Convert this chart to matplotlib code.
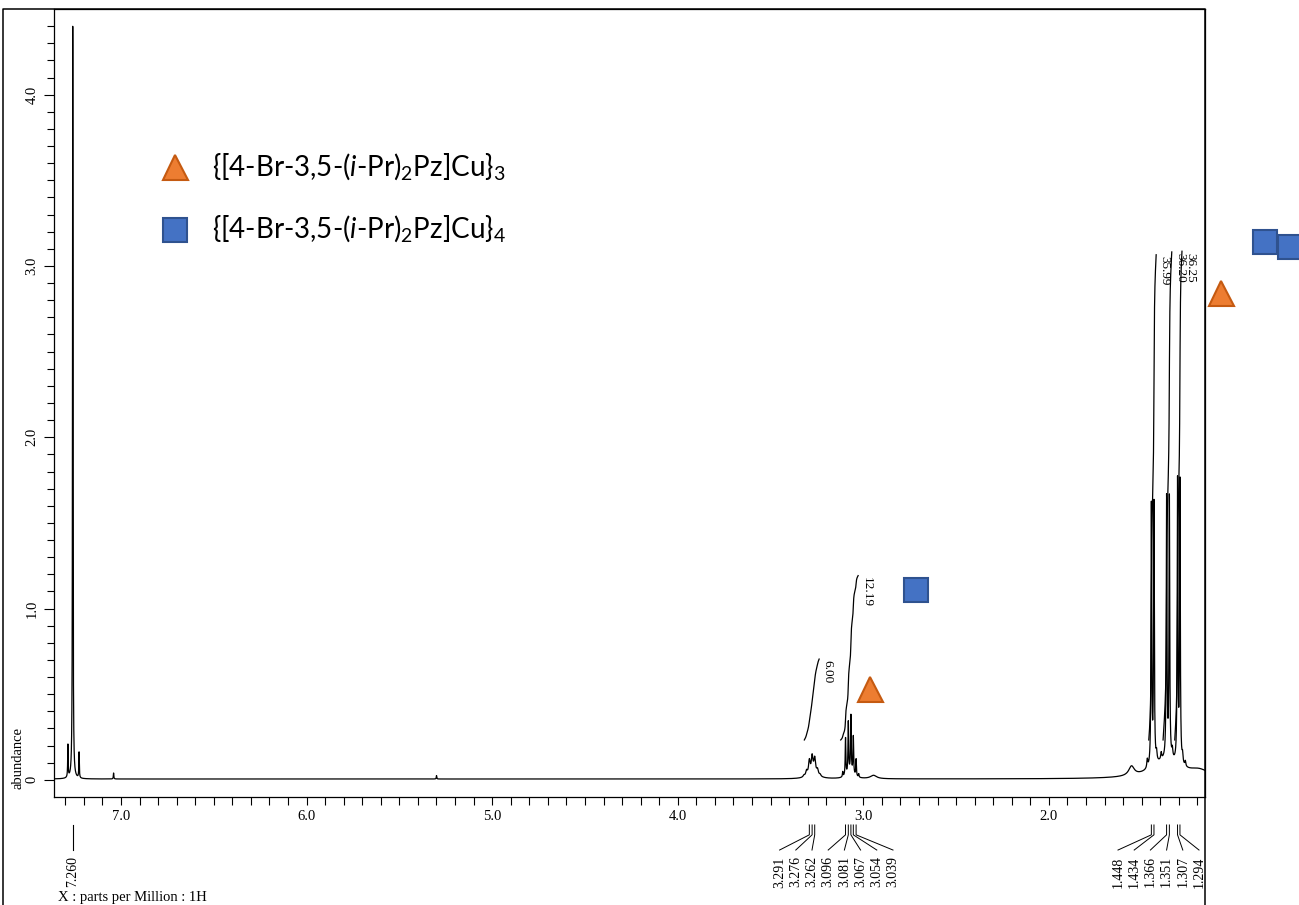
import numpy as np
import matplotlib
matplotlib.use('Agg')
from matplotlib import pyplot as plt
from matplotlib.lines import Line2D
import matplotlib.transforms as mtransforms

plt.rcParams['font.family'] = 'Liberation Serif'
plt.rcParams['mathtext.fontset'] = 'custom'
plt.rcParams['mathtext.rm'] = 'Lato'
plt.rcParams['mathtext.it'] = 'Lato:italic'

# 1H signals: position (ppm), height, half width (ppm)
peak_ppm = [7.286, 7.260, 7.226, 7.040, 5.300,
            3.320, 3.306, 3.291, 3.276, 3.262, 3.247, 3.233, 3.270,
            3.111, 3.096, 3.081, 3.067, 3.054, 3.039, 3.025, 3.070,
            2.945,
            1.555, 1.470, 1.448, 1.434, 1.420, 1.395, 1.366, 1.351, 1.335,
            1.307, 1.294, 1.280, 1.265, 1.370, 1.190]
peak_height = [0.19, 4.40, 0.15, 0.035, 0.02,
               0.01, 0.03, 0.08, 0.09, 0.08, 0.03, 0.01, 0.04,
               0.03, 0.22, 0.30, 0.33, 0.22, 0.10, 0.02, 0.035,
               0.02,
               0.055, 0.05, 1.52, 1.52, 0.05, 0.04, 1.52, 1.52, 0.05,
               1.64, 1.64, 0.05, 0.03, 0.10, 0.04]
peak_width = [0.0015, 0.0015, 0.0015, 0.0015, 0.0015,
              0.005, 0.005, 0.005, 0.005, 0.005, 0.005, 0.005, 0.025,
              0.002, 0.002, 0.002, 0.002, 0.002, 0.002, 0.002, 0.02,
              0.02,
              0.018, 0.003, 0.0022, 0.0022, 0.003, 0.003, 0.0022, 0.0022, 0.003,
              0.0022, 0.0022, 0.003, 0.003, 0.09, 0.07]
baseline = 0.005

# picked peaks (ppm)
picked = [7.260, 3.291, 3.276, 3.262, 3.096, 3.081, 3.067, 3.054, 3.039,
          1.448, 1.434, 1.366, 1.351, 1.307, 1.294]

# integrals: start ppm, end ppm, value
int_start = [3.318, 3.122, 1.462, 1.385, 1.322]
int_end = [3.238, 3.028, 1.422, 1.338, 1.283]
int_value = [6.00, 12.19, 35.99, 36.20, 36.25]

# assignment markers (ppm, abundance)
trimer_marks = [(2.965, 0.53), (1.073, 2.845)]
tetramer_marks = [(2.717, 1.108), (0.837, 3.14), (0.703, 3.11)]

legend_labels = [r'{[4-Br-3,5-($\mathit{i}$-Pr)$_2$Pz]Cu}$_3$',
                 r'{[4-Br-3,5-($\mathit{i}$-Pr)$_2$Pz]Cu}$_4$']

x_lo, x_hi = 1.159, 7.361
ppm = np.linspace(x_hi, x_lo, 40000)
spec = np.full_like(ppm, baseline)
for p, h, w in zip(peak_ppm, peak_height, peak_width):
    spec += h * w**2 / ((ppm - p)**2 + w**2)

W, H = 1299, 905
fig = plt.figure(figsize=(W / 100, H / 100), dpi=100)
ax = fig.add_axes([54 / W, 1 - 797 / H, (1205 - 54) / W, (797 - 9) / H])

ax.plot(ppm, spec, color='black', lw=0.9)

ax.set_xlim(x_hi, x_lo)
ax.set_ylim(-0.1, 4.5)
ax.set_xticks(np.arange(2.0, 7.01, 1.0))
ax.set_xticklabels([f'{v:.1f}' for v in np.arange(2.0, 7.01, 1.0)], fontsize=10.5)
ax.set_xticks(np.arange(1.2, 7.36, 0.1), minor=True)
yt = np.arange(0, 4.01, 1.0)
ax.set_yticks(yt)
ax.set_yticklabels(['0'] + [f'{v:.1f}' for v in yt[1:]], rotation=90,
                   va='center', fontsize=10.5)
ax.set_yticks(np.arange(0, 4.46, 0.1), minor=True)
ax.tick_params(axis='x', which='both', length=6, width=0.8, pad=3)
ax.tick_params(axis='y', which='major', length=7, width=0.8, pad=4)
ax.tick_params(axis='y', which='minor', length=5, width=0.8)
for s in ax.spines.values():
    s.set_linewidth(0.9)

# integral curves
int_base, int_scale = 0.233, 0.0787
for a, b, v in zip(int_start, int_end, int_value):
    m = (ppm <= a) & (ppm >= b)
    c = np.cumsum(spec[m] - baseline)
    c = (c - c[0]) / (c[-1] - c[0])
    ax.plot(ppm[m], int_base + c * v * int_scale, color='black', lw=0.9)
    ax.annotate(f'{v:.2f}', (ppm[m][-1], int_base + v * int_scale),
                xytext=(6, -1), textcoords='offset points', rotation=-90,
                ha='center', va='top', fontsize=9.5)

# peak pick labels below the axis
trans = mtransforms.blended_transform_factory(ax.transData, ax.transAxes)
px_per_ppm = ax.bbox.width / (x_hi - x_lo)
step = 16.2 / px_per_ppm
groups, cur = [], [picked[0]]
for p in picked[1:]:
    if cur[-1] - p > 0.5:
        groups.append(cur)
        cur = [p]
    else:
        cur.append(p)
groups.append(cur)
y1, y2, y3 = -0.0355, -0.048, -0.0673
for g in groups:
    n = len(g)
    lab = np.mean(g) - (np.arange(n) - (n - 1) / 2) * step
    lim = x_lo + 6 / px_per_ppm
    if lab.min() < lim:
        lab += lim - lab.min()
    for p, lx in zip(g, lab):
        if n == 1:
            ax.plot([p, p], [y1, y3], color='black', lw=0.8, transform=trans, clip_on=False)
        else:
            ax.plot([p, p, lx], [y1, y2, y3], color='black', lw=0.7, transform=trans, clip_on=False)
        ax.text(lx, y3 - 0.008, f'{p:.3f}', transform=trans, rotation=90,
                ha='center', va='top', fontsize=10)

# assignment markers
orange, orange_edge = '#ED7D31', '#C55A11'
blue, blue_edge = '#4472C4', '#2F528F'
for x, y in trimer_marks:
    ax.plot(x, y, marker='^', ms=18, mfc=orange, mec=orange_edge, mew=1.5, clip_on=False)
for x, y in tetramer_marks:
    ax.plot(x, y, marker='s', ms=17.5, mfc=blue, mec=blue_edge, mew=1.5, clip_on=False)

# legend
for (mk, fc, ec, ms), yc, txt in zip([('^', orange, orange_edge, 18), ('s', blue, blue_edge, 17.5)],
                                     [167, 230], legend_labels):
    fig.add_artist(Line2D([175 / W], [1 - yc / H], marker=mk, ms=ms, mfc=fc, mec=ec,
                          mew=1.5, transform=fig.transFigure))
    fig.text(212 / W, 1 - (yc + 8) / H, txt, family='Lato', fontsize=20, va='baseline')

# outer frame
fig.add_artist(Line2D([3 / W, 3 / W, 1205 / W, 1205 / W], [0, 1 - 9 / H, 1 - 9 / H, 0],
                      color='black', lw=1.1, transform=fig.transFigure))

fig.text(18 / W, 1 - 758 / H, 'abundance', rotation=90, ha='center', va='center', fontsize=10.5)
fig.text(58 / W, 1 - 897 / H, 'X : parts per Million : 1H', va='center', fontsize=10.5)

fig.savefig('out.png', dpi=100)
